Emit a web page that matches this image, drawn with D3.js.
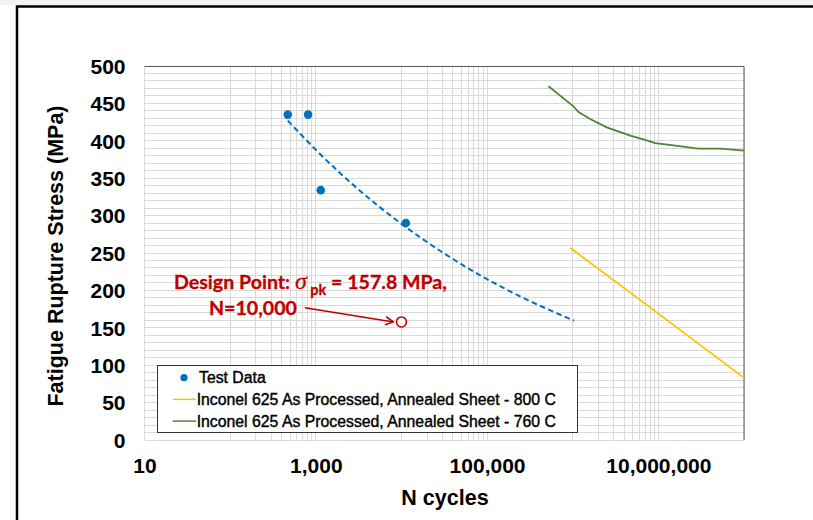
<!DOCTYPE html>
<html>
<head>
<meta charset="utf-8">
<script src="https://cdn.jsdelivr.net/npm/d3@7/dist/d3.min.js"></script>
<style>
body { margin: 0; background: #fff; }
svg { display: block; font-family: "Liberation Sans", Arial, sans-serif; }
.axis text { font-size: 21px; font-weight: bold; fill: #000; }
.grid line { stroke: #d9d9d9; stroke-width: 1; shape-rendering: crispEdges; }
.legend text { font-size: 15.8px; fill: #000; stroke: #000; stroke-width: 0.4; }
.note { font-family: Lato, "Open Sans", sans-serif; font-weight: bold; fill: #c00000; stroke: #c00000; stroke-width: 0.3; }
</style>
</head>
<body>
<svg width="813" height="520"></svg>
<script>
// test points
var testN = [471, 813, 1143, 11250];
var testS = [435, 435, 334, 290];
// power trend line through the test data
var trendN = [471, 1000, 3000, 10000, 30000, 100000, 300000, 1040000];
var trendS = [427, 388, 337, 289, 251, 215, 187, 159.5];
// Inconel 625 annealed sheet, 800 C
var sheet800N = [933000, 10000000, 100000000];
var sheet800S = [257, 169, 83];
// Inconel 625 annealed sheet, 760 C
var sheet760N = [521000, 1020000, 1170000, 1600000, 2500000, 4700000, 6700000, 9200000, 15000000, 29400000, 53000000, 100000000];
var sheet760S = [473, 446, 438.5, 429, 418, 407, 402, 397, 394, 389.5, 389.5, 387];
// design point
var designN = 10000;
var designS = 157.8;

var xTickValues = [10, 1000, 100000, 10000000];
var yTickValues = [0, 50, 100, 150, 200, 250, 300, 350, 400, 450, 500];
var legendLabels = ["Test Data",
    "Inconel 625 As Processed, Annealed Sheet - 800 C",
    "Inconel 625 As Processed, Annealed Sheet - 760 C"];

var blue = "#0070c0", orange = "#ffc000", green = "#548235", red = "#c00000";

var svg = d3.select("svg");
var margin = { top: 66, right: 69, bottom: 80, left: 144.5 };
var width = +svg.attr("width") - margin.left - margin.right;
var height = +svg.attr("height") - margin.top - margin.bottom;

// slide frame
svg.append("rect").attr("x", 0).attr("y", 0).attr("width", 813).attr("height", 5)
    .attr("fill", "#f3f3f6");
svg.append("rect")
    .attr("x", 17).attr("y", 6.5).attr("width", 900).attr("height", 600)
    .attr("fill", "#fff").attr("stroke", "#000").attr("stroke-width", 2.5);

var g = svg.append("g")
    .attr("transform", "translate(" + margin.left + "," + margin.top + ")");

var x = d3.scaleLog().domain([10, 1e8]).range([0, width]);
var y = d3.scaleLinear().domain([0, 500]).range([height, 0]);

// grid: every decade, minor lines only in the decades of 100, 10^4, 10^6
var xGrid = x.ticks().filter(function (d) {
    var e = Math.floor(Math.log10(d) + 1e-9);
    var m = Math.round(d / Math.pow(10, e));
    return m === 1 || e % 2 === 0;
});
var grid = g.append("g").attr("class", "grid");
grid.selectAll(".gy").data(d3.range(0, 501, 10))
    .enter().append("line")
    .attr("x1", 0).attr("x2", width)
    .attr("y1", function (d) { return y(d); }).attr("y2", function (d) { return y(d); });
grid.selectAll(".gx").data(xGrid)
    .enter().append("line")
    .attr("y1", 0).attr("y2", height)
    .attr("x1", function (d) { return x(d); }).attr("x2", function (d) { return x(d); });

// plot border: top and right darker
g.append("path")
    .attr("d", "M0,0.5H" + width + "V" + height)
    .attr("fill", "none").attr("stroke", "#595959").attr("stroke-width", 1);

// axes
g.append("g")
    .attr("class", "axis")
    .attr("transform", "translate(0," + height + ")")
    .call(d3.axisBottom(x).tickValues(xTickValues).tickFormat(d3.format(",")).tickSize(0).tickPadding(18))
    .call(function (a) { a.select(".domain").remove(); })
    .selectAll("text").attr("font-family", null).attr("font-size", null);
g.append("g")
    .attr("class", "axis")
    .call(d3.axisLeft(y).tickValues(yTickValues).tickSize(0).tickPadding(19))
    .call(function (a) { a.select(".domain").remove(); })
    .selectAll("text").attr("font-family", null).attr("font-size", null).attr("dy", "0.35em");

svg.append("text")
    .attr("transform", "translate(63," + 256 + ") rotate(-90)")
    .attr("text-anchor", "middle")
    .attr("font-size", "21.5px").attr("font-weight", "bold")
    .text("Fatigue Rupture Stress (MPa)");
svg.append("text")
    .attr("x", 445).attr("y", 505)
    .attr("text-anchor", "middle")
    .attr("font-size", "21.5px").attr("font-weight", "bold")
    .text("N cycles");

// series
var line = d3.line()
    .x(function (d) { return x(d[0]); })
    .y(function (d) { return y(d[1]); });

g.append("path")
    .datum(d3.zip(trendN, trendS))
    .attr("fill", "none").attr("stroke", blue).attr("stroke-width", 2)
    .attr("stroke-dasharray", "5.5,3.5")
    .attr("d", line.curve(d3.curveMonotoneX));
line.curve(d3.curveLinear);
g.append("path")
    .datum(d3.zip(sheet800N, sheet800S))
    .attr("fill", "none").attr("stroke", orange).attr("stroke-width", 1.75)
    .attr("d", line);
g.append("path")
    .datum(d3.zip(sheet760N, sheet760S))
    .attr("fill", "none").attr("stroke", green).attr("stroke-width", 1.75)
    .attr("d", line);

g.selectAll(".dot")
    .data(d3.zip(testN, testS))
    .enter().append("circle")
    .attr("class", "dot")
    .attr("cx", function (d) { return x(d[0]); })
    .attr("cy", function (d) { return y(d[1]); })
    .attr("r", 4.3)
    .attr("fill", blue);

// design point + annotation
g.append("circle")
    .attr("cx", x(designN)).attr("cy", y(designS)).attr("r", 5)
    .attr("fill", "#fff").attr("stroke", red).attr("stroke-width", 1.6);

svg.append("defs").append("marker")
    .attr("id", "arrow")
    .attr("viewBox", "0 0 10 10").attr("refX", 9).attr("refY", 5)
    .attr("markerWidth", 10).attr("markerHeight", 10)
    .attr("markerUnits", "userSpaceOnUse")
    .attr("orient", "auto")
    .append("path").attr("d", "M1,1L9,5L1,9")
    .attr("fill", "none").attr("stroke", red).attr("stroke-width", 1.6);

g.append("line")
    .attr("x1", 305 - margin.left).attr("y1", 307.7 - margin.top)
    .attr("x2", x(designN) - 8).attr("y2", y(designS))
    .attr("stroke", red).attr("stroke-width", 1.6)
    .attr("marker-end", "url(#arrow)");

var note = svg.append("text").attr("class", "note")
    .attr("x", 174).attr("y", 288.5).attr("font-size", "19.6px");
note.append("tspan").text("Design Point: ");
note.append("tspan").attr("font-family", "'Liberation Serif', serif")
    .attr("font-style", "italic").attr("font-weight", "normal").attr("font-size", "24px").text("\u03c3");
note.append("tspan").attr("font-size", "14.5px").attr("dy", 6).text(" pk");
note.append("tspan").attr("dy", -6).text(" = 157.8 MPa,");
svg.append("text").attr("class", "note")
    .attr("x", 209).attr("y", 315).attr("font-size", "19.6px")
    .text("N=10,000");

// legend
var legend = svg.append("g").attr("class", "legend");
legend.append("rect")
    .attr("x", 157.5).attr("y", 365.5).attr("width", 420).attr("height", 67)
    .attr("fill", "#fff").attr("stroke", "#333").attr("stroke-width", 1);
var rows = legend.selectAll(".row").data(legendLabels)
    .enter().append("g")
    .attr("class", "row")
    .attr("transform", function (d, i) { return "translate(0," + (377.7 + i * 21.7) + ")"; });
rows.append("text")
    .attr("x", function (d, i) { return i === 0 ? 199 : 196.7; })
    .attr("y", 5.6)
    .text(function (d) { return d; });
rows.filter(function (d, i) { return i === 0; })
    .append("circle").attr("cx", 184).attr("cy", 0).attr("r", 3.6).attr("fill", blue);
rows.filter(function (d, i) { return i > 0; })
    .append("line")
    .attr("x1", 172.7).attr("x2", 196).attr("y1", 0).attr("y2", 0)
    .attr("stroke", function (d, i) { return i === 0 ? orange : green; })
    .attr("stroke-width", 1.5);
</script>
</body>
</html>
